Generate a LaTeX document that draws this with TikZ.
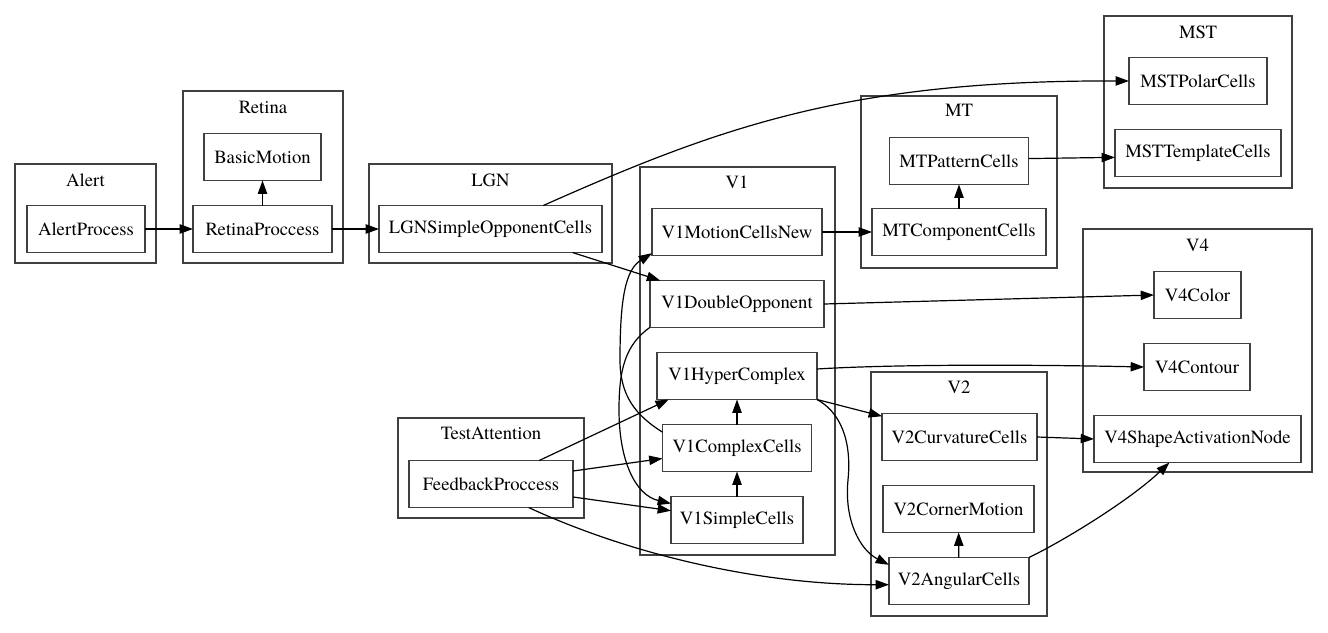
\documentclass[tikz,border=0pt]{standalone}
\usepackage{fontspec}
\setmainfont{TeX Gyre Termes}
\usetikzlibrary{arrows.meta}
\begin{document}
\begin{tikzpicture}[x=0.75pt,y=-0.75pt,
  every node/.style={font=\fontsize{14pt}{16pt}\selectfont},
  unit/.style={draw=black!75, line width=1.1pt, rectangle, minimum height=35.25pt,
               inner sep=0pt, outer sep=0pt},
  wd/.style={minimum width=#1*0.75pt},
  cluster/.style={draw=black!75, line width=1.1pt},
  title/.style={inner sep=0pt},
  link/.style={line width=0.9pt, -{Triangle[length=10pt,width=7pt]}}
]
\useasboundingbox (0,0) rectangle (1328,632);

% clusters
\draw[cluster] (15,164) rectangle (156,263);
\node[title] (alertT) at (85.5,180) {Alert};
\draw[cluster] (183,91) rectangle (343,263);
\node[title] (retinaT) at (263,107) {Retina};
\draw[cluster] (369,164) rectangle (612,263);
\node[title] (lgnT) at (490.5,180) {LGN};
\draw[cluster] (640,167) rectangle (835,555);
\node[title] (v1T) at (737,182) {V1};
\draw[cluster] (398,418) rectangle (584,518);
\node[title] (taT) at (491,433) {TestAttention};
\draw[cluster] (861,96) rectangle (1057,268);
\node[title] (mtT) at (959,110) {MT};
\draw[cluster] (1104,16) rectangle (1292,188);
\node[title] (mstT) at (1198,32) {MST};
\draw[cluster] (1083,229) rectangle (1312,472);
\node[title] (v4T) at (1197.5,245) {V4};
\draw[cluster] (871,372) rectangle (1047,616);
\node[title] (v2T) at (959,387) {V2};

% processing units
\node[unit, wd=118] (ap)   at (86,229)    {AlertProcess};
\node[unit, wd=117] (bm)   at (262.5,157) {BasicMotion};
\node[unit, wd=139] (rp)   at (262.5,229) {RetinaProccess};
\node[unit, wd=223] (lgn)  at (490.5,229) {LGNSimpleOpponentCells};
\node[unit, wd=170] (v1m)  at (737,232)   {V1MotionCellsNew};
\node[unit, wd=174] (v1do) at (737,304)   {V1DoubleOpponent};
\node[unit, wd=160] (v1hc) at (737,376)   {V1HyperComplex};
\node[unit, wd=149] (v1cx) at (737,448)   {V1ComplexCells};
\node[unit, wd=132] (v1s)  at (737,520)   {V1SimpleCells};
\node[unit, wd=164] (fb)   at (491,484)   {FeedbackProccess};
\node[unit, wd=139] (mtp)  at (959,161)   {MTPatternCells};
\node[unit, wd=174] (mtc)  at (959,232)   {MTComponentCells};
\node[unit, wd=138] (mstp) at (1198,81)   {MSTPolarCells};
\node[unit, wd=166] (mstt) at (1198,153)  {MSTTemplateCells};
\node[unit, wd=87]  (v4c)  at (1197.5,295) {V4Color};
\node[unit, wd=106] (v4ct) at (1197,367)  {V4Contour};
\node[unit, wd=207] (v4s)  at (1197.5,439) {V4ShapeActivationNode};
\node[unit, wd=155] (v2cc) at (959.5,437) {V2CurvatureCells};
\node[unit, wd=151] (v2cm) at (958.5,509) {V2CornerMotion};
\node[unit, wd=140] (v2ac) at (959,581)   {V2AngularCells};

% connections
\draw[link] (ap) -- (rp);
\draw[link] (rp) -- (bm);
\draw[link] (rp) -- (lgn);
\draw[link] (lgn.24) .. controls (720,127) and (849,80) .. (mstp.west);
\draw[link] (lgn.-16) -- (v1do.163);
\draw[link] (v1m) -- (mtc);
\draw[link] (mtc) -- (mtp);
\draw[link] (mtp.2) -- (mstt.183);
\draw[link] (v1do.east) -- (v4c.west);
\draw[link] (v1hc.5) .. controls (880,365) and (1000,364) .. (v4ct.west);
\draw[link] (v1hc.south east) -- (v2cc.165);
\draw[link] (v1hc.south east) .. controls (840,412) and (852,440) .. (848,480)
            .. controls (844,520) and (860,550) .. (v2ac.167);
\draw[link] (v1cx) -- (v1hc);
\draw[link] (v1s) -- (v1cx);
\draw[link] (v1cx.168) .. controls (635,415) and (620,395) .. (620,360)
            .. controls (620,300) and (625,270) .. (v1m.194);
\draw[link] (v1do.195) .. controls (625,345) and (619,370) .. (619,410)
            .. controls (619,460) and (635,495) .. (v1s.166);
\draw[link] (fb.26) -- (v1hc.199);
\draw[link] (fb.9) -- (v1cx.188);
\draw[link] (fb.-9) -- (v1s.172);
\draw[link] (fb.-32) .. controls (629,554) and (759,585) .. (v2ac.183);
\draw[link] (v2cc.east) -- (v4s.west);
\draw[link] (v2ac) -- (v2cm);
\draw[link] (v2ac.north east) .. controls (1065,540) and (1130,500) .. (v4s.220);
\end{tikzpicture}
\end{document}
